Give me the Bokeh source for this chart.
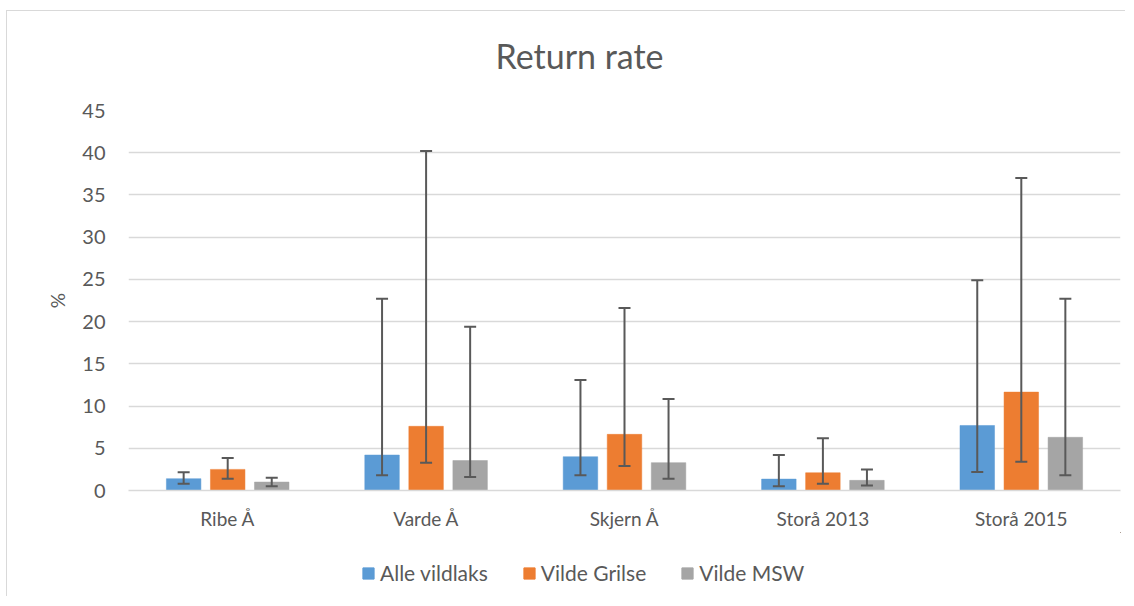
from bokeh.plotting import figure
from bokeh.models import (ColumnDataSource, FactorRange, Whisker, TeeHead, Legend,
                          LegendItem, Range1d, FixedTicker, Title)
from bokeh.layouts import column
from bokeh.transform import dodge
from bokeh.embed import file_html
from bokeh.resources import INLINE

categories = ["Ribe Å", "Varde Å", "Skjern Å", "Storå 2013", "Storå 2015"]
series_names = ["Alle vildlaks", "Vilde Grilse", "Vilde MSW"]
alle = [1.4, 4.2, 4.0, 1.35, 7.7]
alle_lo = [0.8, 1.8, 1.8, 0.5, 2.2]
alle_hi = [2.15, 22.7, 13.1, 4.2, 24.9]
grilse = [2.5, 7.6, 6.65, 2.1, 11.65]
grilse_lo = [1.4, 3.3, 2.9, 0.8, 3.4]
grilse_hi = [3.85, 40.2, 21.6, 6.2, 37.0]
msw = [1.0, 3.55, 3.3, 1.2, 6.3]
msw_lo = [0.5, 1.6, 1.4, 0.6, 1.8]
msw_hi = [1.5, 19.4, 10.85, 2.5, 22.7]
y_ticks = [0, 5, 10, 15, 20, 25, 30, 35, 40, 45]

colors = ["#5B9BD5", "#ED7D31", "#A5A5A5"]
FONT = "Lato"
TXT = "#595959"

src = ColumnDataSource(data=dict(
    cat=categories,
    alle=alle, alle_lo=alle_lo, alle_hi=alle_hi,
    grilse=grilse, grilse_lo=grilse_lo, grilse_hi=grilse_hi,
    msw=msw, msw_lo=msw_lo, msw_hi=msw_hi,
))

p = figure(x_range=FactorRange(*categories), y_range=Range1d(0, 45),
           width=1118, height=521, output_backend="svg", toolbar_location=None,
           min_border_left=121, min_border_right=5, min_border_top=99,
           min_border_bottom=42)
p.outline_line_color = None
p.background_fill_color = "white"
p.border_fill_color = "white"

offsets = [-0.222, 0.0, 0.222]
keys = ["alle", "grilse", "msw"]
for k, off, col in zip(keys, offsets, colors):
    p.vbar(x=dodge("cat", off, range=p.x_range), top=k, width=0.174,
           source=src, fill_color=col, line_color=col, line_width=0.5)

for k, off in zip(keys, offsets):
    w = Whisker(base=dodge("cat", off, range=p.x_range), upper=k + "_hi", lower=k + "_lo",
                source=src, line_color="#595959", line_width=2, level="overlay",
                upper_head=TeeHead(size=12, line_color="#595959", line_width=2),
                lower_head=TeeHead(size=12, line_color="#595959", line_width=2))
    p.add_layout(w)

# title (outermost) with a blank spacer between it and the plot area
p.title.text = "Return rate"
p.title.align = "left"
p.title.offset = 367
p.title.text_font = FONT
p.title.text_font_size = "34px"
p.title.text_font_style = "normal"
p.title.text_color = TXT
p.title.standoff = 0
spacer = Title(text=" ", text_font_size="2px", standoff=31)
p.add_layout(spacer, "above")

# axes
p.yaxis.ticker = FixedTicker(ticks=y_ticks)
p.yaxis.axis_label = "%"
p.yaxis.axis_label_text_font = FONT
p.yaxis.axis_label_text_font_size = "19px"
p.yaxis.axis_label_text_font_style = "normal"
p.yaxis.axis_label_text_color = TXT
p.yaxis.axis_label_standoff = 10
p.yaxis.axis_line_color = None
p.yaxis.major_tick_line_color = None
p.yaxis.minor_tick_line_color = None
p.yaxis.major_tick_out = 0
p.yaxis.major_tick_in = 0
p.yaxis.minor_tick_out = 0
p.yaxis.major_label_standoff = 23
p.yaxis.major_label_text_font = FONT
p.yaxis.major_label_text_font_size = "20px"
p.yaxis.major_label_text_color = TXT

p.xaxis.axis_line_color = "#D9D9D9"
p.xaxis.axis_line_width = 1.5
p.xaxis.major_tick_line_color = None
p.xaxis.minor_tick_line_color = None
p.xaxis.major_label_standoff = 10
p.xaxis.major_label_text_font = FONT
p.xaxis.major_label_text_font_size = "19px"
p.xaxis.major_label_text_color = TXT

p.xgrid.grid_line_color = None
p.ygrid.grid_line_color = "#D9D9D9"
p.ygrid.grid_line_width = 1.5

# legend strip below the chart (proxy bars lie outside its visible range)
leg = figure(width=1118, height=64, x_range=Range1d(-2, -1), y_range=Range1d(-2, -1),
             output_backend="svg", toolbar_location=None, x_axis_type=None,
             y_axis_type=None, min_border=0)
leg.outline_line_color = None
leg.grid.visible = False
leg.background_fill_color = "white"
leg.border_fill_color = "white"
items = []
for k, col, name in zip(keys, colors, series_names):
    r = leg.vbar(x=k, top=k, width=0.1, source=src, fill_color=col, line_color=col)
    items.append(LegendItem(label=name, renderers=[r]))
legend = Legend(items=items, orientation="horizontal", location=(233, 11),
                glyph_width=14, glyph_height=14, label_standoff=5, spacing=34,
                padding=0, margin=0, border_line_color=None,
                background_fill_alpha=0,
                label_text_font=FONT, label_text_font_size="21px",
                label_text_color=TXT)
leg.add_layout(legend, "center")

layout = column(p, leg, spacing=0)
layout.styles = {"border-left": "1px solid #D9D9D9", "border-top": "1px solid #D9D9D9",
                 "margin-left": "6px", "margin-top": "10px"}

open("out.html", "w").write(file_html(layout, INLINE))
